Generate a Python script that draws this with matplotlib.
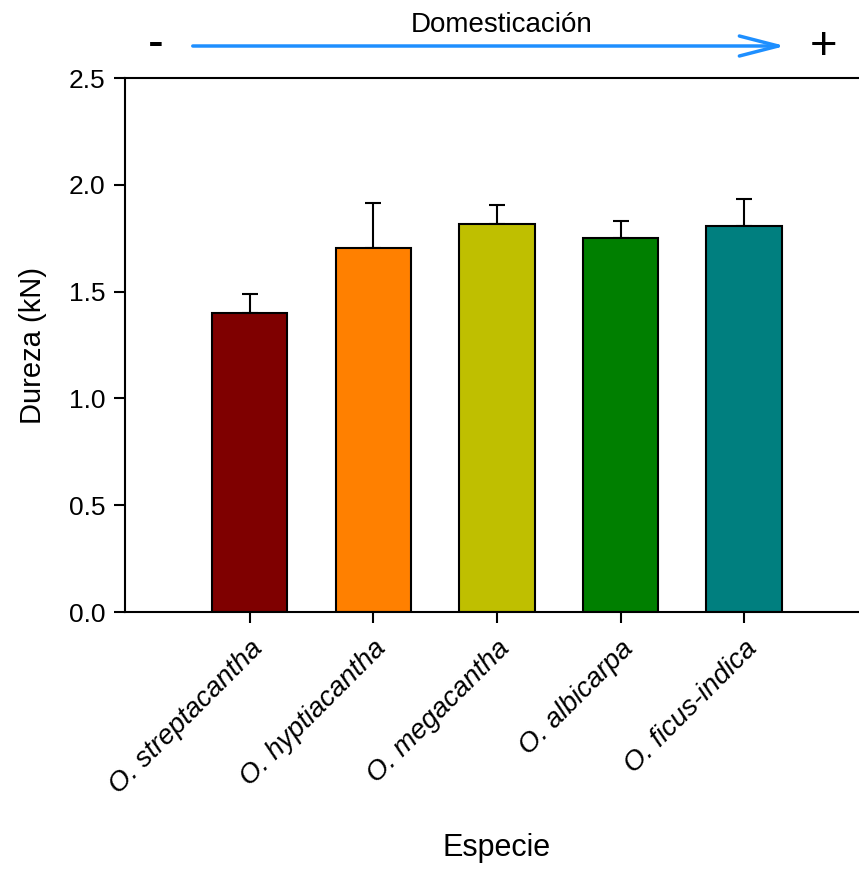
import matplotlib
matplotlib.use("Agg")
import matplotlib.pyplot as plt
from matplotlib import font_manager as fm

names = {f.name for f in fm.fontManager.ttflist}
fam = "Liberation Sans Narrow" if "Liberation Sans Narrow" in names else "Liberation Sans"
plt.rcParams['font.family'] = [fam, 'DejaVu Sans']

species = ["O. streptacantha", "O. hyptiacantha", "O. megacantha", "O. albicarpa", "O. ficus-indica"]
values = [1.40, 1.705, 1.817, 1.752, 1.808]
errors = [0.09, 0.21, 0.09, 0.08, 0.125]
colors = ["#7F0000", "#FF8000", "#BFBF00", "#007F00", "#007F7F"]
yticks = [0.0, 0.5, 1.0, 1.5, 2.0, 2.5]

fig = plt.figure(figsize=(8.59, 8.69), dpi=100)
ax = fig.add_axes([0.1455, 0.2957, 0.8545, 0.6145])
x = list(range(len(species)))
ax.bar(x, values, width=0.61, color=colors, edgecolor="black", linewidth=1.5, zorder=2)
ax.errorbar(x, values, yerr=[[0]*len(errors), errors], fmt="none", ecolor="black",
            elinewidth=1.5, capsize=6, capthick=1.5, zorder=1)
ax.set_xlim(-1.01, 4.93)
ax.set_ylim(0, 2.5)
ax.set_yticks(yticks)
ax.set_yticklabels([f"{v:.1f}" for v in yticks], fontsize=19)
ax.set_xticks(x)
ax.set_xticklabels(species, rotation=45, ha="right", rotation_mode="anchor",
                   fontsize=20, style="italic")
ax.spines["right"].set_visible(False)
for s in ["left", "bottom", "top"]:
    ax.spines[s].set_linewidth(1.5)
ax.tick_params(axis="both", direction="out", length=8, width=1.5, pad=6)
ax.tick_params(axis="x", pad=9)
ax.set_ylabel("Dureza (kN)", fontsize=21, labelpad=16)
fig.text(497/859, 1-848/869, "Especie", fontsize=22, ha="center", va="center")

fig.text(502/859, 1-25/869, "Domesticación", fontsize=20, ha="center", va="center")
fig.text(156/859, 1-45/869, "-", fontsize=34, ha="center", va="center")
fig.text(824/859, 1-47/869, "+", fontsize=34, ha="center", va="center")
ax.annotate("", xy=(788/859, 1-46/869), xytext=(190/859, 1-46/869),
            xycoords="figure fraction", textcoords="figure fraction",
            arrowprops=dict(arrowstyle="->,head_length=2.8,head_width=0.72",
                            color="#1E8FFF", lw=2.5))

fig.savefig("out.png", dpi=100)
